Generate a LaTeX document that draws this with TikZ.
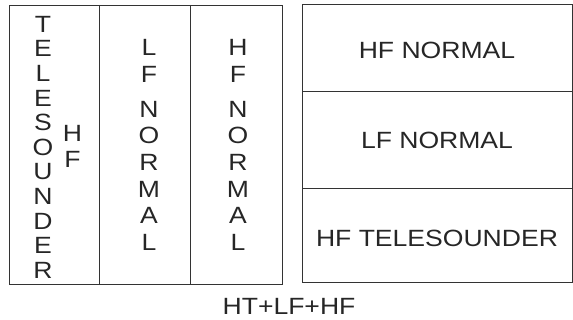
\documentclass[tikz,border=0pt]{standalone}
\usepackage{fontspec}
\setmainfont{Liberation Sans}[FakeStretch=1.13]
\usepackage{tikz}
\usetikzlibrary{positioning}
\tikzset{
  panel/.style={draw=black!80, line width=0.9pt},
  lbl/.style={inner sep=0pt, align=center, text=black!85,
    font=\fontsize{23.5}{26.6}\selectfont},
  vlbl/.style={lbl, anchor=north}
}
\begin{document}
\begin{tikzpicture}[x=1pt,y=-1pt]
\useasboundingbox (0,0) rectangle (573,320);
% left panel: three columns
\draw[panel] (9,5) rectangle (282,284);
\draw[panel] (99,5) -- (99,284);
\draw[panel] (190,5) -- (190,284);
\node[vlbl, font=\fontsize{23.5}{24.6}\selectfont] (tele) at (43,16)
  {T\\E\\L\\E\\S\\O\\U\\N\\D\\E\\R};
\node[vlbl, font=\fontsize{23.5}{26}\selectfont] (hft) at (72.5,125) {H\\F};
\node[vlbl] (lfn) at (149,39.3) {L\\F\\[8.4pt]N\\O\\R\\M\\A\\L};
\node[vlbl] (hfn) at (238,39.3) {H\\F\\[8.4pt]N\\O\\R\\M\\A\\L};
% right panel: three rows
\draw[panel] (302,4) rectangle (572,282);
\draw[panel] (302,91) -- (572,91);
\draw[panel] (302,188) -- (572,188);
\node[lbl] (rowhf) at (437,50) {HF NORMAL};
\node[lbl] (rowlf) at (437,140) {LF NORMAL};
\node[lbl] (rowtele) at (437,238) {HF TELESOUNDER};
% caption
\node[lbl] (caption) at (289,306) {HT+LF+HF};
\end{tikzpicture}
\end{document}
